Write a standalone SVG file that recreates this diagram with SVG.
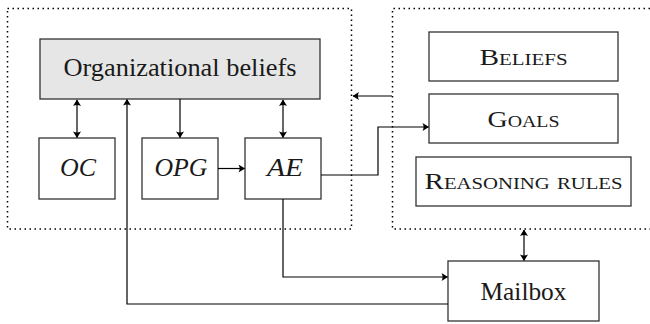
<svg xmlns="http://www.w3.org/2000/svg" width="650" height="324" viewBox="0 0 650 324">
  <style>
    .box { fill: #ffffff; stroke: #333333; stroke-width: 1.3; }
    .shaded { fill: #e6e6e6; }
    .dotted { fill: none; stroke: #000000; stroke-width: 1.5; stroke-dasharray: 1.5 3.5; }
    .conn { fill: none; stroke: #000000; stroke-width: 1.2; }
    .t { font-family: "Liberation Serif", serif; font-size: 24.5px; fill: #1a1a1a; text-anchor: middle; }
    .it { font-style: italic; }
    .sc { font-variant: small-caps; font-size: 22.5px; }
  </style>
  <defs>
    <marker id="arr" viewBox="-8 -5 9 10" refX="0" refY="0" markerWidth="9" markerHeight="10" markerUnits="userSpaceOnUse" orient="auto-start-reverse">
      <path d="M0.5,0 L-6,-4 Q-3.8,0 -6,4 Z" fill="#000000"/>
    </marker>
  </defs>

  <g id="agent-container">
    <rect class="dotted" x="7.5" y="8.5" width="344" height="220.5"/>
  </g>
  <g id="mental-state-container">
    <path class="dotted" d="M660,8.5 H392.5 V229 H660"/>
  </g>

  <g id="organizational-beliefs">
    <rect class="box shaded" x="40" y="39" width="280" height="60"/>
    <text class="t" x="180" y="76" textLength="233" lengthAdjust="spacingAndGlyphs">Organizational beliefs</text>
  </g>
  <g id="oc">
    <rect class="box" x="39" y="138" width="76" height="61"/>
    <text class="t it" x="78" y="176" textLength="36" lengthAdjust="spacingAndGlyphs">OC</text>
  </g>
  <g id="opg">
    <rect class="box" x="142" y="138" width="76" height="61"/>
    <text class="t it" x="181" y="176" textLength="53" lengthAdjust="spacingAndGlyphs">OPG</text>
  </g>
  <g id="ae">
    <rect class="box" x="245" y="138" width="76" height="61"/>
    <text class="t it" x="285" y="176" textLength="36" lengthAdjust="spacingAndGlyphs">AE</text>
  </g>
  <g id="beliefs">
    <rect class="box" x="429" y="32" width="189" height="49"/>
    <text class="t sc" x="523.5" y="64.5" textLength="88" lengthAdjust="spacingAndGlyphs">Beliefs</text>
  </g>
  <g id="goals">
    <rect class="box" x="429" y="94" width="189" height="49"/>
    <text class="t sc" x="523.5" y="127" textLength="72" lengthAdjust="spacingAndGlyphs">Goals</text>
  </g>
  <g id="reasoning-rules">
    <rect class="box" x="416" y="157" width="215" height="49"/>
    <text class="t sc" x="523.5" y="189" textLength="198" lengthAdjust="spacingAndGlyphs">Reasoning rules</text>
  </g>
  <g id="mailbox">
    <rect class="box" x="448" y="261" width="151" height="60"/>
    <text class="t" x="523.5" y="300" textLength="86" lengthAdjust="spacingAndGlyphs">Mailbox</text>
  </g>

  <g id="connectors">
    <path class="conn" d="M77,100 V137.5" marker-start="url(#arr)" marker-end="url(#arr)"/>
    <path class="conn" d="M180,99 V137.5" marker-end="url(#arr)"/>
    <path class="conn" d="M283,100 V137.5" marker-start="url(#arr)" marker-end="url(#arr)"/>
    <path class="conn" d="M218,168.5 H244.5" marker-end="url(#arr)"/>
    <path class="conn" d="M321,175 H378 V127 H428.5" marker-end="url(#arr)"/>
    <path class="conn" d="M392,96 H353" marker-end="url(#arr)"/>
    <path class="conn" d="M524,230 V260.5" marker-start="url(#arr)" marker-end="url(#arr)"/>
    <path class="conn" d="M283,199 V277 H447.5" marker-end="url(#arr)"/>
    <path class="conn" d="M448,304 H127 V99.5" marker-end="url(#arr)"/>
  </g>
</svg>
